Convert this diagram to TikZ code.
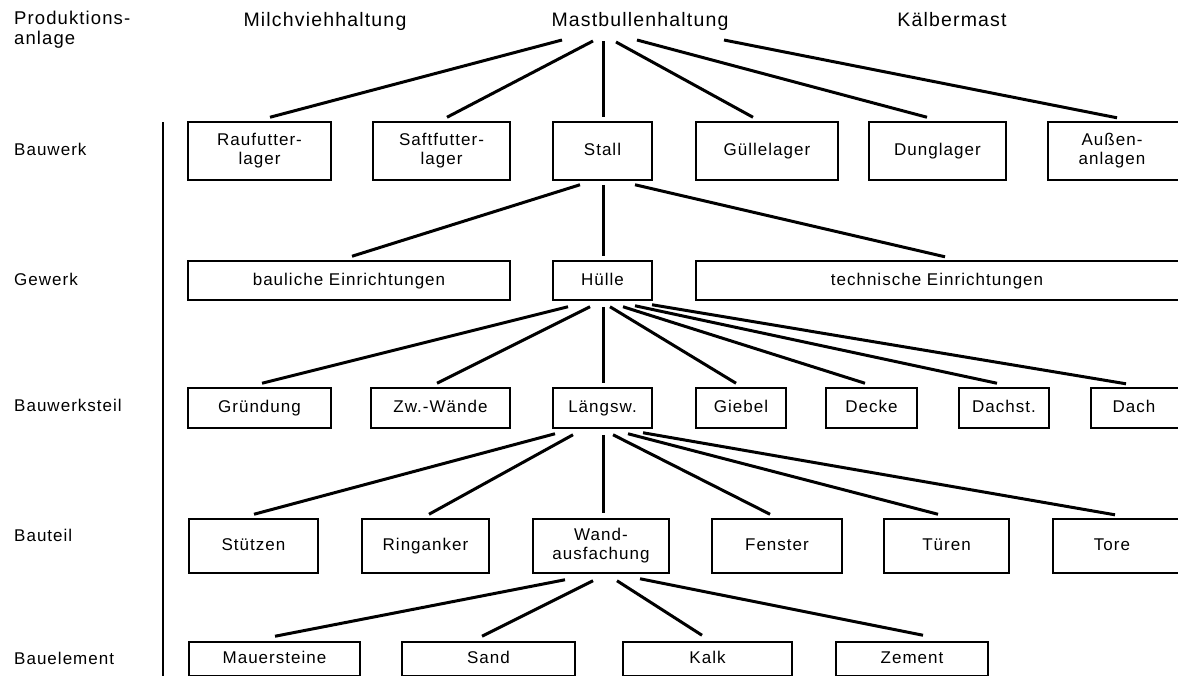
\documentclass[tikz,border=0pt]{standalone}
\usepackage{fontspec}
\setmainfont{Liberation Sans}[LetterSpace=6]
\usetikzlibrary{calc}
\newcommand{\boxfont}{\fontsize{17}{19}\selectfont}
\newcommand{\topfont}{\fontsize{19.5}{20}\selectfont}
\begin{document}
\begin{tikzpicture}[x=1pt,y=-1pt,
  basebox/.style={inner sep=0pt, align=center, font=\boxfont},
  oneline/.style={text height=12.5pt, text depth=3.5pt},
  frame/.style={draw, line width=1.5pt},
  box/.style={basebox, frame, oneline},
  boxtwo/.style={basebox, frame},
  openframe/.style={append after command={\pgfextra{\draw[line width=1.5pt]
      ([xshift=30pt]\tikzlastnode.north east) -- (\tikzlastnode.north west) --
      (\tikzlastnode.south west) -- ([xshift=30pt]\tikzlastnode.south east);}}},
  openbox/.style={basebox, oneline, openframe},
  openboxtwo/.style={basebox, openframe},
  lvl/.style={anchor=west, align=left, inner sep=0pt, font=\boxfont, oneline},
  head/.style={inner sep=0pt, font=\topfont, text height=14pt, text depth=4pt},
  conn/.style={line width=3pt},
  rule/.style={line width=1.5pt}]
\useasboundingbox (0,0) rectangle (1178,675);
\clip (0,0) rectangle (1178,675);

% level labels
\node[anchor=west, align=left, inner sep=0pt, font=\fontsize{18.5}{20}\selectfont]
  (lprod) at (14,30) {Produktions-\\anlage};
\node[lvl] (lbauwerk) at (14,151) {Bauwerk};
\node[lvl] (lgewerk) at (14,281) {Gewerk};
\node[lvl] (lteil) at (14,407) {Bauwerksteil};
\node[lvl] (lbauteil) at (14,537) {Bauteil};
\node[lvl] (lelem) at (14,660) {Bauelement};
\coordinate (rtop) at (163,122);
\coordinate (rbot) at (163,676);
\draw[rule] (rtop) -- (rbot);

% top row
\node[head] (milch) at (325,21) {Milchviehhaltung};
\node[head] (mast) at (640,21) {Mastbullenhaltung};
\node[head] (kalb) at (952,21) {Kälbermast};

% Bauwerk
\node[boxtwo, minimum width=143, minimum height=58] (rau) at (259.5,151) {Raufutter-\\lager};
\node[boxtwo, minimum width=137, minimum height=58] (saft) at (441.5,151) {Saftfutter-\\lager};
\node[box, minimum width=99, minimum height=58] (stall) at (602.5,151) {Stall};
\node[box, minimum width=142, minimum height=58] (guelle) at (767,151) {Güllelager};
\node[box, minimum width=137, minimum height=58] (dung) at (937.5,151) {Dunglager};
\node[openboxtwo, minimum width=128, minimum height=58] (aussen) at (1112,151) {Außen-\\anlagen};

% Gewerk
\node[box, minimum width=322, minimum height=39] (baul) at (349,280.5) {bauliche Einrichtungen};
\node[box, minimum width=99, minimum height=39] (huelle) at (602.5,280.5) {Hülle};
\node[openbox, minimum width=482, minimum height=39] (techn) at (937,280.5) {technische Einrichtungen};

% Bauwerksteil
\node[box, minimum width=143, minimum height=40] (gruend) at (259.5,408) {Gründung};
\node[box, minimum width=139, minimum height=40] (zw) at (440.5,408) {Zw.-Wände};
\node[box, minimum width=99, minimum height=40] (laengs) at (602.5,408) {Längsw.};
\node[box, minimum width=90, minimum height=40] (giebel) at (741,408) {Giebel};
\node[box, minimum width=91, minimum height=40] (decke) at (871.5,408) {Decke};
\node[box, minimum width=90, minimum height=40] (dachst) at (1004,408) {Dachst.};
\node[openbox, minimum width=86, minimum height=40] (dach) at (1134,408) {Dach};

% Bauteil
\node[box, minimum width=129, minimum height=54] (stuetzen) at (253.5,546) {Stützen};
\node[box, minimum width=127, minimum height=54] (ring) at (425.5,546) {Ringanker};
\node[boxtwo, minimum width=136, minimum height=54] (wand) at (601,546) {Wand-\\ausfachung};
\node[box, minimum width=130, minimum height=54] (fenster) at (777,546) {Fenster};
\node[box, minimum width=125, minimum height=54] (tueren) at (946.5,546) {Türen};
\node[openbox, minimum width=118, minimum height=54] (tore) at (1112,546) {Tore};

% Bauelement
\node[box, minimum width=171, minimum height=34] (mauer) at (274.5,659) {Mauersteine};
\node[box, minimum width=173, minimum height=34] (sand) at (488.5,659) {Sand};
\node[box, minimum width=169, minimum height=34] (kalk) at (707.5,659) {Kalk};
\node[box, minimum width=152, minimum height=34] (zement) at (912,659) {Zement};

% connectors level 1
\draw[conn] ($(mast.center)+(-78,19)$) -- ($(rau.north)+(10.5,-4)$);
\draw[conn] ($(mast.center)+(-47,20)$) -- ($(saft.north)+(5.5,-4)$);
\draw[conn] ($(mast.center)+(-37,20)$) -- ($(stall.north)+(0.5,-4)$);
\draw[conn] ($(mast.center)+(-24,21)$) -- ($(guelle.north)+(-14,-4)$);
\draw[conn] ($(mast.center)+(-3,19)$) -- ($(dung.north)+(-10.5,-4)$);
\draw[conn] ($(mast.center)+(84,19)$) -- ($(aussen.north)+(5,-4)$);

% level 2
\draw[conn] ($(stall.south)+(-22.5,4)$) -- ($(baul.north)+(3,-4)$);
\draw[conn] ($(stall.south)+(0.5,4)$) -- ($(huelle.north)+(0.5,-4)$);
\draw[conn] ($(stall.south)+(32.5,4)$) -- ($(techn.north)+(8,-4)$);

% level 3
\draw[conn] ($(huelle.south)+(-34.5,6)$) -- ($(gruend.north)+(2.5,-4)$);
\draw[conn] ($(huelle.south)+(-12.5,6)$) -- ($(zw.north)+(-3.5,-4)$);
\draw[conn] ($(huelle.south)+(0.5,6)$) -- ($(laengs.north)+(0.5,-4)$);
\draw[conn] ($(huelle.south)+(7.5,6)$) -- ($(giebel.north)+(-5,-4)$);
\draw[conn] ($(huelle.south)+(20.5,6)$) -- ($(decke.north)+(-6.5,-4)$);
\draw[conn] ($(huelle.south)+(32.5,5)$) -- ($(dachst.north)+(-7,-4)$);
\draw[conn] ($(huelle.south)+(49.5,4)$) -- ($(dach.north)+(-8,-4)$);

% level 4
\draw[conn] ($(laengs.south)+(-47.5,5)$) -- ($(stuetzen.north)+(0.5,-4)$);
\draw[conn] ($(laengs.south)+(-29.5,6)$) -- ($(ring.north)+(3.5,-4)$);
\draw[conn] ($(laengs.south)+(0.5,6)$) -- ($(wand.north)+(2,-5)$);
\draw[conn] ($(laengs.south)+(10.5,6)$) -- ($(fenster.north)+(-7,-4)$);
\draw[conn] ($(laengs.south)+(25.5,5)$) -- ($(tueren.north)+(-8.5,-4)$);
\draw[conn] ($(laengs.south)+(40.5,4)$) -- ($(tore.north)+(3,-4)$);

% level 5
\draw[conn] ($(wand.south)+(-36,6)$) -- ($(mauer.north)+(0.5,-5)$);
\draw[conn] ($(wand.south)+(-8,7)$) -- ($(sand.north)+(-6.5,-5)$);
\draw[conn] ($(wand.south)+(16,7)$) -- ($(kalk.north)+(-5.5,-6)$);
\draw[conn] ($(wand.south)+(39,5)$) -- ($(zement.north)+(11,-6)$);
\end{tikzpicture}
\end{document}
